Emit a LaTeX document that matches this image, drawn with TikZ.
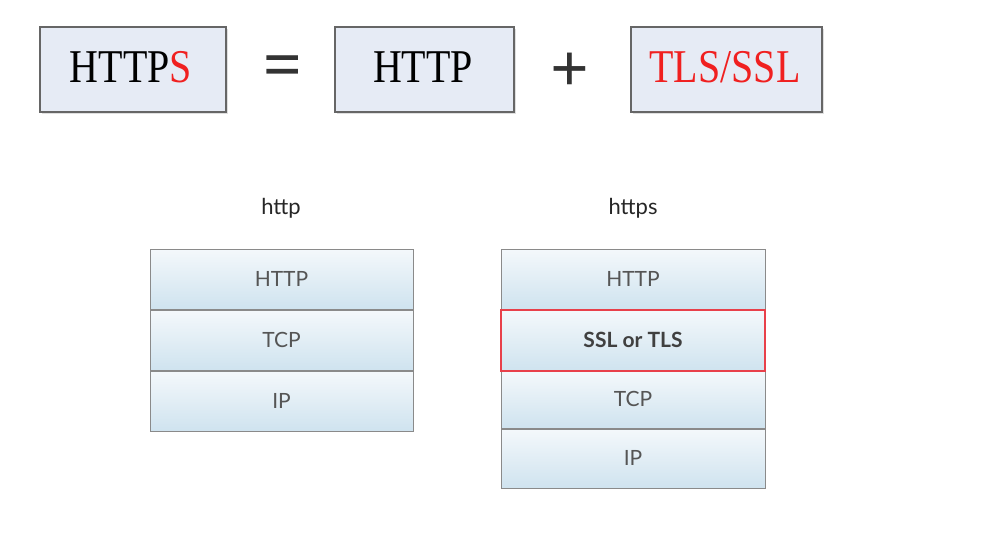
\documentclass[tikz,border=0pt]{standalone}
\usepackage{fontspec}
\setmainfont{Liberation Serif}
\newfontfamily\narrowserif[FakeStretch=0.85]{Liberation Serif}
\newfontfamily\layerfont{Lato}
\usetikzlibrary{shadows}
\definecolor{topfill}{HTML}{E6EBF5}
\definecolor{topedge}{HTML}{666666}
\definecolor{layertop}{HTML}{F4F8FB}
\definecolor{layerbot}{HTML}{CFE3EF}
\definecolor{layeredge}{HTML}{8A8A8A}
\definecolor{layertext}{HTML}{555555}
\definecolor{redtext}{HTML}{F02020}
\definecolor{rededge}{HTML}{E8404A}
\begin{document}
\begin{tikzpicture}[x=1pt,y=-1pt,
  topbox/.style={draw=topedge, line width=1.3pt, fill=topfill,
    drop shadow={opacity=0.25, shadow xshift=1.5pt, shadow yshift=-1.5pt}},
  toptext/.style={font=\narrowserif\fontsize{47}{54}\selectfont, inner sep=0pt},
  optext/.style={font=\bfseries\fontsize{68}{76}\selectfont, inner sep=0pt, text=black!80},
  layer/.style={draw=layeredge, line width=0.6pt, top color=layertop, bottom color=layerbot},
  layertxt/.style={font=\layerfont\fontsize{21}{24}\selectfont, text=layertext, inner sep=0pt},
  captxt/.style={font=\layerfont\fontsize{22}{26}\selectfont, text=black!85, inner sep=0pt}]
\useasboundingbox (0,0) rectangle (1000,555);
% top equation
\path[topbox] (40,27) rectangle (226,112);
\node[toptext] (https) at (131,67) {HTTP\textcolor{redtext}{S}};
\node[optext] (eq) at (283,72) {=};
\path[topbox] (335,27) rectangle (514,112);
\node[toptext] (http) at (423,67) {HTTP};
\node[optext] (plus) at (570,72) {+};
\path[topbox] (631,27) rectangle (822,112);
\node[toptext, text=redtext] (tls) at (725,67) {TLS/SSL};
% captions
\node[captxt] (caphttp) at (281,208) {http};
\node[captxt] (caphttps) at (633,208) {https};
% left stack
\path[layer] (150,249) rectangle (413,309);
\node[layertxt] (l1) at (281.5,279) {HTTP};
\path[layer] (150,310) rectangle (413,370);
\node[layertxt] (l2) at (281.5,340) {TCP};
\path[layer] (150,371) rectangle (413,431);
\node[layertxt] (l3) at (281.5,401) {IP};
% right stack
\path[layer] (501,249) rectangle (765,309);
\node[layertxt] (r1) at (633,279) {HTTP};
\path[layer] (501,371) rectangle (765,428);
\node[layertxt] (r3) at (633,399) {TCP};
\path[layer] (501,429) rectangle (765,488);
\node[layertxt] (r4) at (633,458) {IP};
\path[layer, draw=rededge, line width=1.2pt] (501,310) rectangle (765,371);
\node[layertxt, font=\layerfont\bfseries\fontsize{21}{24}\selectfont, text=black!75] (r2) at (633,340) {SSL or TLS};
\end{tikzpicture}
\end{document}
